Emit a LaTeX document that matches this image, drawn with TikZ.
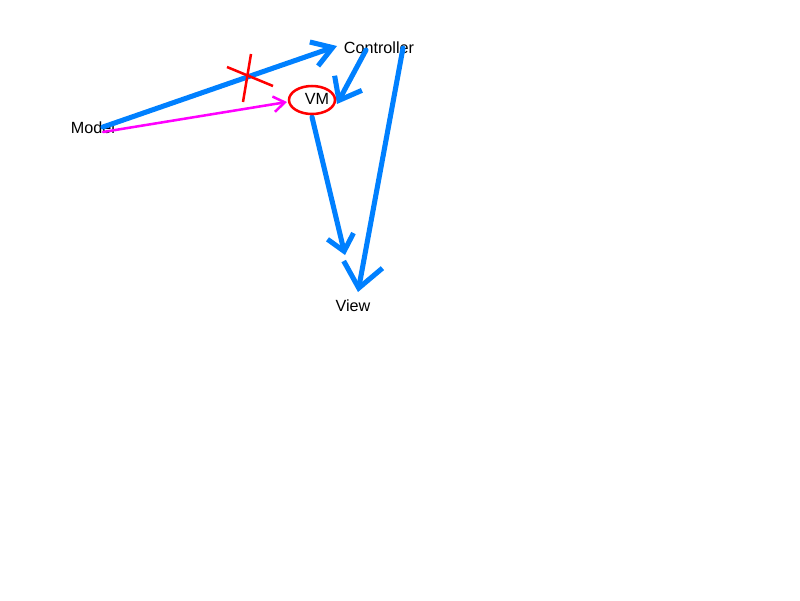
\documentclass[tikz,border=0pt]{standalone}
\usepackage{fontspec}
\setmainfont{Liberation Sans}
\usetikzlibrary{arrows.meta}
\definecolor{flowblue}{RGB}{0,128,255}
\definecolor{bindpink}{RGB}{255,0,255}
\tikzset{
  lbl/.style={font=\fontsize{11.5}{13}\selectfont, inner sep=0pt},
  flow/.style={draw=flowblue, line width=3.6pt, line cap=round, line join=round},
  bind/.style={draw=bindpink, line width=1.8pt, line cap=round, line join=round},
  cutmark/.style={draw=red, line width=1.8pt}
}
\begin{document}
\begin{tikzpicture}[x=0.025cm, y=-0.025cm]
        \useasboundingbox (0,0) rectangle (800,600);

        \node [lbl] (model) at (93,128) {Model};
        \node [lbl] (ctrl) at (379,48) {Controller};
        \node [lbl] (vm) at (317,99) {VM};
        \node [lbl] (view) at (353,306) {View};

        % ends of the strokes
        \coordinate (m1) at (103,127);
        \coordinate (m2) at (103,132);
        \coordinate (c1) at (337,46);
        \coordinate (c2) at (366,50);
        \coordinate (c3) at (403,48);
        \coordinate (v1) at (337,104);
        \coordinate (v2) at (287,102);
        \coordinate (v3) at (312,117);
        \coordinate (w1) at (345,255);
        \coordinate (w2) at (358,292);

        \draw [flow, -{Straight Barb[length=14pt, width=18pt]}] (m1) -- (c1);
        \draw [flow, -{Straight Barb[length=14pt, width=22pt]}] (c2) -- (v1);
        \draw [flow, -{Straight Barb[length=11pt, width=19pt]}] (v3) -- (w1);
        \draw [flow, -{Straight Barb[length=17pt, width=28pt]}] (c3) -- (w2);
        \draw [bind, -{Straight Barb[length=8pt, width=11pt]}] (m2) -- (v2);

        \draw [cutmark] (251,54) -- (243,102);
        \draw [cutmark] (227,67) -- (273,86);
        \draw [cutmark] (312,100) ellipse [x radius=23, y radius=14];

    \end{tikzpicture}
\end{document}
